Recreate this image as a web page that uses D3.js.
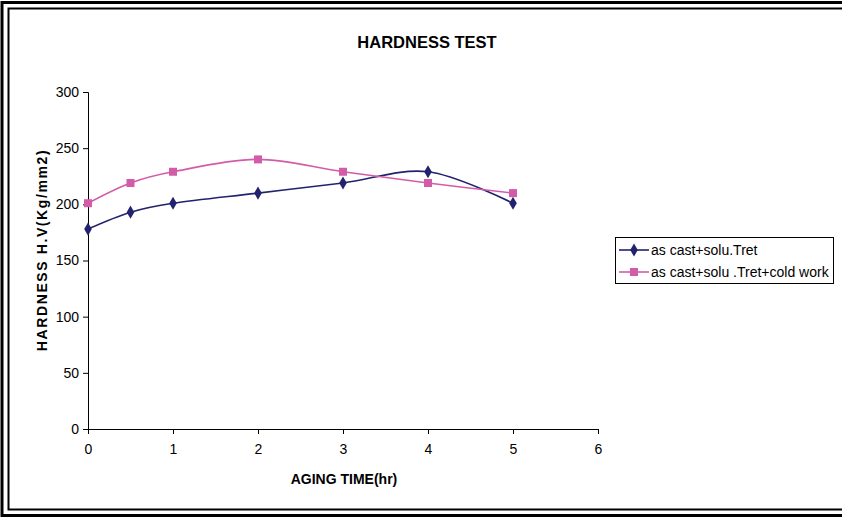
<!DOCTYPE html>
<html><head><meta charset="utf-8">
<script src="https://cdn.jsdelivr.net/npm/d3@7"></script>
<style>body{margin:0;background:#fff}svg{display:block}text{font-family:"Liberation Sans",Arial,sans-serif}</style>
</head><body><svg id="c" width="842" height="518"></svg>
<script>
const xValues = [0, 0.5, 1, 2, 3, 4, 5];
const seriesA = [178, 193, 201, 210, 219, 229, 201];
const seriesB = [201, 219, 229, 240, 229, 219, 210];
const seriesNames = ["as cast+solu.Tret", "as cast+solu .Tret+cold work"];
const xTicks = [0, 1, 2, 3, 4, 5, 6];
const yTicks = [0, 50, 100, 150, 200, 250, 300];
const colors = ["#22226e", "#d35ca9"];

const svg = d3.select("#c");
// frame
svg.append("rect").attr("x",2).attr("y",2.5).attr("width",860).attr("height",513).attr("fill","none").attr("stroke","#000").attr("stroke-width",3);
svg.append("rect").attr("x",8.5).attr("y",8.5).attr("width",850).attr("height",501).attr("fill","none").attr("stroke","#000").attr("stroke-width",2);

const x = d3.scaleLinear().domain([0,6]).range([88,598]);
const y = d3.scaleLinear().domain([0,300]).range([429,92]);

const xa = svg.append("g").attr("transform","translate(0,429)")
  .call(d3.axisBottom(x).tickValues(xTicks).tickSize(5).tickPadding(10).tickFormat(d3.format("d")));
const ya = svg.append("g").attr("transform","translate(88,0)")
  .call(d3.axisLeft(y).tickValues(yTicks).tickSize(5).tickPadding(4).tickFormat(d3.format("d")));
[xa,ya].forEach(g=>{
  g.select(".domain").attr("stroke","#000");
  g.selectAll("line").attr("stroke","#000");
  g.selectAll("text").attr("font-size",14).attr("fill","#000").attr("font-family",'"Liberation Sans",Arial,sans-serif');
});

svg.append("text").attr("x",427).attr("y",48).attr("text-anchor","middle").attr("font-size",16.5).attr("font-weight","bold").text("HARDNESS TEST");
svg.append("text").attr("x",344).attr("y",484).attr("text-anchor","middle").attr("font-size",14).attr("font-weight","bold").text("AGING TIME(hr)");
svg.append("text").attr("transform","translate(47,250) rotate(-90)").attr("text-anchor","middle").attr("font-size",14).attr("font-weight","bold").attr("letter-spacing","1.6").text("HARDNESS H.V(Kg/mm2)");

const line = d3.line().x(d=>x(d[0])).y(d=>y(d[1])).curve(d3.curveCardinal.tension(0));
const all = [seriesA, seriesB];
const diamond = d3.symbol().type(d3.symbolDiamond).size(50);
const square = d3.symbol().type(d3.symbolSquare).size(64);
const syms = [diamond, square];

all.forEach((s,i)=>{
  const pts = xValues.map((v,j)=>[v,s[j]]);
  svg.append("path").attr("d",line(pts)).attr("fill","none").attr("stroke",colors[i]).attr("stroke-width",1.6);
  svg.selectAll(null).data(pts).enter().append("path")
    .attr("d",syms[i]()).attr("transform",d=>`translate(${x(d[0])},${y(d[1])})`).attr("fill",colors[i]);
});

// legend
const lg = svg.append("g");
lg.append("rect").attr("x",615.5).attr("y",237.5).attr("width",218).attr("height",46).attr("fill","#fff").attr("stroke","#000").attr("stroke-width",1);
seriesNames.forEach((n,i)=>{
  const yy = 250 + i*22;
  lg.append("line").attr("x1",619).attr("x2",649).attr("y1",yy).attr("y2",yy).attr("stroke",colors[i]).attr("stroke-width",1.6);
  lg.append("path").attr("d",syms[i]()).attr("transform",`translate(634,${yy})`).attr("fill",colors[i]);
  lg.append("text").attr("x",651).attr("y",yy+5).attr("font-size",14).attr("fill","#000").text(n);
});
</script></body></html>
